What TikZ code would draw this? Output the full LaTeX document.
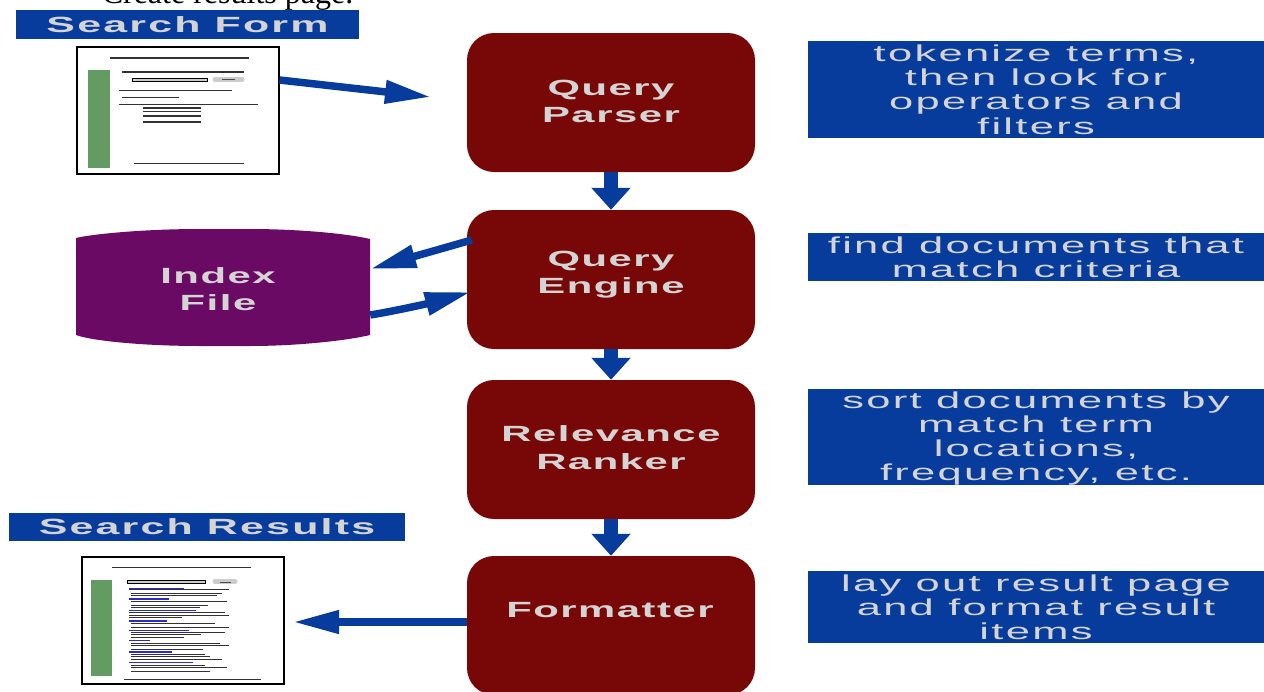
\documentclass[tikz,border=0pt]{standalone}
\usepackage{fontspec}
\setmainfont{Liberation Serif}
\newfontfamily\widesans[FakeStretch=1.89,LetterSpace=10]{Liberation Sans}
\newfontfamily\widebold[FakeStretch=1.9,LetterSpace=7]{Liberation Sans Bold}
\newfontfamily\titlebold[FakeStretch=1.95,LetterSpace=10]{Liberation Sans Bold}
\usetikzlibrary{arrows.meta,calc}
\definecolor{boxred}{HTML}{780808}
\definecolor{boxblue}{HTML}{083C9C}
\definecolor{indexpurple}{HTML}{6A0A64}
\definecolor{labelgrey}{HTML}{D4D4D4}
\definecolor{barblue}{HTML}{2A2AD0}
\definecolor{bargreen}{HTML}{639B63}
\tikzset{
  stagebox/.style={draw=none,fill=boxred,rounded corners=27pt,minimum width=288pt,minimum height=139pt,inner sep=0pt},
  stagetext/.style={inner sep=0pt,text=labelgrey,align=center,font=\widebold\fontsize{22}{27.5}\selectfont},
  notetext/.style={inner sep=0pt,text=labelgrey,align=center,font=\widesans\fontsize{23}{24.2}\selectfont},
  notebox/.style={fill=boxblue,inner sep=0pt,minimum width=456pt,notetext},
  titlebox/.style={fill=boxblue,inner sep=0pt,text=labelgrey,align=center,font=\titlebold\fontsize{22}{24}\selectfont},
  pagebox/.style={draw=black,line width=2pt,fill=white,inner sep=0pt,minimum width=202pt,minimum height=127pt},
  flowline/.style={draw=boxblue,line width=7.5pt,-{Triangle[length=46pt,width=22pt]}},
  downline/.style={draw=boxblue,line width=14pt,-{Triangle[length=22pt,width=38pt]}},
  rule/.style={draw=black!80,line width=1.2pt},
  hit/.style={draw=barblue,line width=1.2pt},
}
\begin{document}
\begin{tikzpicture}[x=1pt,y=-1pt]
\useasboundingbox (0,0) rectangle (1264,691);
\clip (0,0) rectangle (1264,691);
\node[anchor=base,font=\fontsize{32}{34}\selectfont] (caption) at (227.5,3.5) {Create results page.};
\node[titlebox,minimum width=343pt,minimum height=29pt] (formtitle) at (187.5,24.5) {Search Form};
\node[titlebox,minimum width=396pt,minimum height=28pt] (resultstitle) at (207,527) {Search Results};
% page icons
\node[pagebox] (formpage) at (177.5,110) {};
\node[pagebox] (resultspage) at (182.5,620.5) {};
\fill[bargreen] (88,70) rectangle (110,167.5);
\foreach \xa/\xb/\yy in {110/249/58, 122/244/72, 119/232/90.5, 122/179/97.5, 119/258/104.5, 143/201/108, 143/201/111.5, 143/201/116, 143/201/122, 134/244/163.5}
  \draw[rule] (\xa,\yy) -- (\xb,\yy);
\draw[black,line width=1pt,fill=white!80!black] (132,78.5) rectangle (207,81.5);
\fill[black!20] (215,77) rectangle (242,82);
\fill[black!20] (215,79.5) circle (2.5);
\fill[black!20] (242,79.5) circle (2.5);
\draw[black!70,line width=1pt] (222,79.5) -- (235,79.5);
% results icon
\fill[bargreen] (90.5,580) rectangle (112,676);
\draw[black,line width=1pt,fill=white!80!black] (127,580) rectangle (205,583);
\fill[black!20] (215,579) rectangle (235,584);
\fill[black!20] (215,581.5) circle (2.5);
\fill[black!20] (235,581.5) circle (2.5);
\draw[black!70,line width=1pt] (220,582) -- (231,582);
\foreach \xa/\xb/\yy in {112/251/567.5, 129/229/589.5, 131/222/593.5, 131/217/595.5, 131/227/601, 131/208/605, 131/200/607, 129/225/612.5, 129/229/615, 129/182/617.5, 131/215/623.5, 131/229/627, 131/225/632.5, 131/201/634.5, 131/184/637.5, 131/220/643, 131/229/645.5, 131/203/649, 131/205/654.5, 131/210/656.5, 131/222/659, 131/205/665, 131/227/667.5, 131/210/671, 124/261/679}
  \draw[rule,line width=1pt] (\xa,\yy) -- (\xb,\yy);
\foreach \xa/\xb/\yy in {129/184/588.5, 129/169/599, 129/196/610.5, 129/167/621, 129/189/630.5, 129/150/640.5, 129/172/652, 129/193/662.5}
  \draw[hit] (\xa,\yy) -- (\xb,\yy);
% index file
\fill[indexpurple] (76,238) .. controls (92,234) and (145,229) .. (200,229) -- (250,229) .. controls (300,229) and (350,234) .. (370,239) -- (370,335) .. controls (350,340) and (300,346) .. (250,346) -- (200,346) .. controls (145,346) and (92,341) .. (76,335) -- cycle;
\node[inner sep=0pt,minimum width=294pt,minimum height=117pt,label={[stagetext,xshift=-5pt,yshift=-1pt]center:Index\\File}] (index) at (223,288) {};
% stages
\node[stagebox,label={[stagetext,yshift=1pt]center:Query\\Parser}] (parser) at (611,102.5) {};
\node[stagebox,label={[stagetext,yshift=5pt]center:Query\\Engine}] (engine) at (611,279.5) {};
\node[stagebox,label={[stagetext,yshift=2pt]center:Relevance\\Ranker}] (ranker) at (611,449.5) {};
\node[stagebox,label={[stagetext,yshift=15pt,xshift=-1pt]center:Formatter}] (formatter) at (611,625.5) {};
% notes
\node[notebox,minimum height=97pt] (note1) at (1036,89.5) {tokenize terms,\\then look for\\operators and\\filters};
\node[notebox,minimum height=48pt] (note2) at (1036,257) {find documents that\\match criteria};
\node[notebox,minimum height=96pt,label={[notetext,yshift=-1.5pt]center:sort documents by\\match term\\locations,\\frequency, etc.}] (note3) at (1036,437) {};
\node[notebox,minimum height=72pt] (note4) at (1036,607) {lay out result page\\and format result\\items};
% connectors
\coordinate (parserin) at (431,97);
\draw[flowline] (formpage.east |- 0,80) -- (parserin);
\draw[downline] (parser.south) -- (engine.north);
\draw[downline] (engine.south) -- (ranker.north);
\draw[downline] (ranker.south) -- (formatter.north);
\draw[flowline] ($(engine.west |- 0,240)+(5,0)$) -- (index.east |- 0,269);
\draw[flowline] (index.east |- 0,315) .. controls (395,311) and (430,303) .. ($(engine.west |- 0,292)+(4,0)$);
\coordinate (resultsin) at (293,622);
\draw[flowline] (formatter.west |- resultsin) -- (resultsin);
\end{tikzpicture}
\end{document}
